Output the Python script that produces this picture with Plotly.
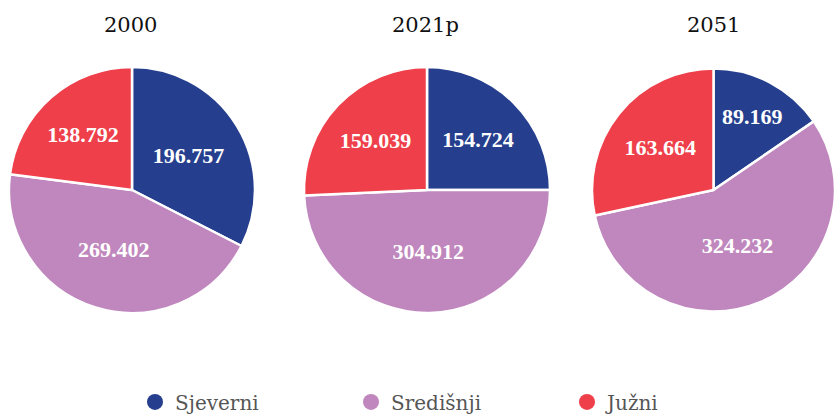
import plotly.graph_objects as go

categories = ["Sjeverni", "Središnji", "Južni"]
years = ["2000", "2021p", "2051"]
values_2000 = [196757, 269402, 138792]
values_2021 = [154724, 304912, 159039]
values_2051 = [89169, 324232, 163664]
colors = ["#253f8e", "#bf87bd", "#ee3f4a"]

W, H = 835, 414
FONT = "DejaVu Serif"
LABEL_FONT = "Liberation Serif"

fig = go.Figure()
series = [values_2000, values_2021, values_2051]
centers = [132, 427, 715]
R = 123
top, bottom = 67, 313
for i, (vals, cx) in enumerate(zip(series, centers)):
    x0 = max(0, (cx - R) / W)
    x1 = min(1, (cx + R) / W)
    fig.add_trace(go.Pie(
        labels=categories, values=vals, sort=False, direction="clockwise",
        rotation=0, marker=dict(colors=colors, line=dict(color="white", width=2.5)),
        texttemplate="%{value:,}", textposition="inside",
        insidetextorientation="horizontal",
        textfont=dict(family=LABEL_FONT, color="white", size=22, weight="bold"),
        domain=dict(x=[x0, x1], y=[(H - bottom) / H, (H - top) / H]),
        showlegend=False, hoverinfo="label+value",
    ))
    fig.add_annotation(text=years[i], x=(cx - 2) / W, y=1 - 25 / H, xref="paper", yref="paper",
                       xanchor="center", yanchor="middle",
                       showarrow=False, font=dict(family=FONT, size=21, color="#111"))

for name, c in zip(categories, colors):
    fig.add_trace(go.Scatter(x=[None], y=[None], mode="markers", name=name,
                             marker=dict(symbol="circle", size=16, color=c)))

fig.update_layout(
    width=W, height=H, margin=dict(l=0, r=0, t=0, b=0, autoexpand=False),
    paper_bgcolor="white", plot_bgcolor="white", separators=",.",
    xaxis=dict(visible=False), yaxis=dict(visible=False),
    legend=dict(orientation="h", x=135 / W, xanchor="left", y=-0.018, yanchor="bottom",
                entrywidth=171, entrywidthmode="pixels",
                font=dict(family=FONT, size=20, color="#555")),
)
fig.write_html("out.html", config={"displayModeBar": False},
               post_script="document.body.style.margin='0';")
